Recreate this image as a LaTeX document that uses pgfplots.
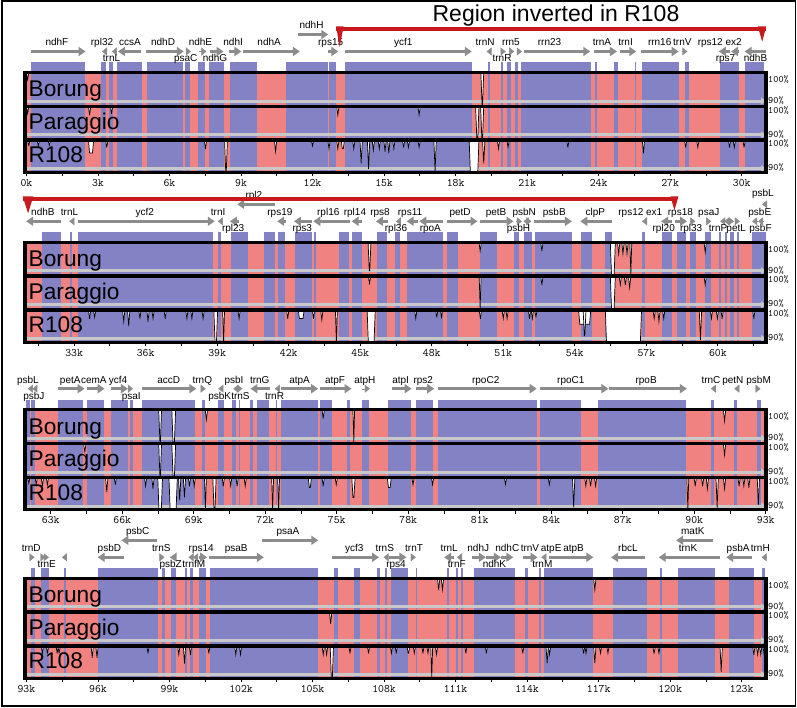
\documentclass[border=0pt]{standalone}
\usepackage{fontspec}
\setmainfont{Liberation Sans}
\usepackage{pgfplots}
\pgfplotsset{compat=1.18}
\usetikzlibrary{arrows.meta}

\definecolor{exon}{RGB}{130,130,196}
\definecolor{cns}{RGB}{240,130,130}
\definecolor{garr}{RGB}{140,140,140}
\definecolor{gline}{RGB}{200,200,200}
\definecolor{redl}{RGB}{200,25,30}

\newcommand{\gfont}{\fontsize{10}{12}\selectfont}
\newcommand{\tfont}{\fontsize{22.7}{26}\selectfont}
\newcommand{\mfont}{\ttfamily\fontsize{11.4}{13}\selectfont}
\newcommand{\pfont}{\ttfamily\fontsize{9.8}{11}\selectfont}

\def\exparse#1/#2\relax{\def\xa{#1}\def\xb{#2}}
\def\dipparse#1/#2/#3\relax{\def\xa{#1}\def\xb{#2}\def\vv{#3}}

\newcommand{\exons}[1]{%
  \pgfplotsforeachungrouped \ee in {#1}{%
    \expandafter\exparse\ee\relax
    \edef\tmp{\noexpand\addplot[fill=exon,draw=none] coordinates {(\xa,0) (\xb,0) (\xb,110) (\xa,110)} -- cycle;}%
    \tmp}}

\newcommand{\dips}[2]{%
  \pgfplotsforeachungrouped \dd in {#2}{%
    \expandafter\dipparse\dd\relax
    \pgfmathsetmacro\ff{min(0.05,0.5*(\xb-\xa))}%
    \pgfmathsetmacro\xc{\xa+\ff}%
    \pgfmathsetmacro\xd{\xb-\ff}%
    \pgfmathsetmacro\yv{#1-(100-\vv)*2.86}%
    \edef\tmp{\noexpand\addplot[fill=white,draw=black,line width=0.7pt] coordinates {(\xa,#1) (\xc,\yv) (\xd,\yv) (\xb,#1)};}%
    \tmp}}

\newcommand{\GA}[3]{\addplot[garr,line width=3.5pt,-{Triangle[length=7pt,width=9pt]}] coordinates {(#1,#3) (#2,#3)};}
\newcommand{\GT}[3]{\addplot[garr,line width=0.4pt,-{Triangle[length=5pt,width=8pt]}] coordinates {(#1,#3) (#2,#3)};}
\newcommand{\GL}[3]{\node[font=\gfont,inner sep=0pt,anchor=base] at (axis cs:#1,#3) {#2};}

\newcommand{\rowbase}[2]{%
  \addplot[fill=cns,draw=none] coordinates {(#1,0) (#2,0) (#2,100) (#1,100)} -- cycle;}
\newcommand{\rowlines}[2]{%
  \addplot[gline,line width=3pt,-{Triangle[length=5pt,width=7pt]}] coordinates {(#1,71.4) (#2,71.4)};
  \addplot[gline,line width=3pt,-{Triangle[length=5pt,width=7pt]}] coordinates {(#1,37.5) (#2,37.5)};
  \addplot[gline,line width=3pt,-{Triangle[length=5pt,width=7pt]}] coordinates {(#1,3.7) (#2,3.7)};}
\newcommand{\rowseps}[2]{%
  \addplot[black,line width=3.5pt] coordinates {(#1,66.1) (#2,66.1)};
  \addplot[black,line width=3.5pt] coordinates {(#1,32.3) (#2,32.3)};
  \node[font=\tfont,anchor=base west,inner sep=0pt,xshift=3.5pt] at (axis cs:#1,75.5) {Borung};
  \node[font=\tfont,anchor=base west,inner sep=0pt,xshift=3.5pt] at (axis cs:#1,43) {Paraggio};
  \node[font=\tfont,anchor=base west,inner sep=0pt,xshift=3.5pt] at (axis cs:#1,9.5) {R108};
  \node[font=\pfont,anchor=west,inner sep=0pt,xshift=2pt] at (axis cs:#2,93.2) {100\%};
  \node[font=\pfont,anchor=west,inner sep=0pt,xshift=2pt] at (axis cs:#2,72.2) {90\%};
  \node[font=\pfont,anchor=west,inner sep=0pt,xshift=2pt] at (axis cs:#2,62.3) {100\%};
  \node[font=\pfont,anchor=west,inner sep=0pt,xshift=2pt] at (axis cs:#2,38.3) {90\%};
  \node[font=\pfont,anchor=west,inner sep=0pt,xshift=2pt] at (axis cs:#2,28.5) {100\%};
  \node[font=\pfont,anchor=west,inner sep=0pt,xshift=2pt] at (axis cs:#2,4.5) {90\%};}

\pgfplotsset{rowax/.style={
  width=741pt,height=100pt,scale only axis,
  ymin=0,ymax=100,ytick=\empty,
  clip=false,axis on top,
  axis line style={line width=3.5pt},
  xtick pos=bottom,tick align=outside,
  major tick length=4pt,minor tick length=4pt,
  tick style={black,line width=0.8pt},
  /pgf/number format/assume math mode=true,
  xticklabel={\mfont\pgfmathprintnumber[fixed,precision=1]{\tick}k},
  xticklabel style={font=\mfont,anchor=base,yshift=-10pt},
  anchor=north west}}

\begin{document}
\begin{tikzpicture}
\useasboundingbox (0pt,0pt) rectangle (797pt,-708pt);
\fill[white] (0pt,0pt) rectangle (797pt,-708pt);

% ---------------- Row 1 ----------------
\begin{axis}[rowax,at={(25pt,-72.5pt)},xmin=-0.06,xmax=31.02,
  xtick={0,3,...,30},minor xtick={1.5,4.5,...,28.5}]
\rowbase{-0.06}{31.02}
\exons{0.2/2.45, 3.12/3.33, 3.47/3.63, 3.78/4.84, 5.04/6.57, 6.63/6.88, 7.18/7.51, 7.65/8.27, 8.53/9.65, 10.88/12.65, 12.71/13.0, 13.37/18.67, 19.35/19.45, 19.9/20.0, 20.16/20.31, 20.51/20.61, 20.76/23.67, 23.84/23.92, 24.63/24.8, 25.51/25.57, 25.82/27.39, 27.61/27.8, 29.08/29.9, 30.14/30.92}
\rowlines{-0.06}{31.02}
\dips{100}{0.0/0.1/97.5, 19.06/19.18/88.7}
\dips{66.1}{0.0/0.1/97.5, 2.6/2.7/97, 3.52/3.62/97.5, 13.01/13.11/97, 16.42/16.52/97, 18.84/18.98/88.7, 19.05/19.18/88.7}
\dips{32.3}{0.05/0.15/98, 0.45/0.55/98, 0.91/1.01/98, 2.6/2.82/95.5, 3.32/3.42/97.5, 7.46/7.56/97, 8.31/8.43/88.7, 10.4/10.5/96, 11.95/12.05/98, 12.64/12.74/97, 13.01/13.11/97, 13.2/13.34/97, 13.68/13.78/97, 13.99/14.09/92, 14.3/14.4/90, 14.5/14.6/96.5, 14.75/14.85/97, 14.99/15.09/96, 15.15/15.25/95.5, 15.36/15.46/97, 15.77/15.87/97.5, 15.97/16.07/97.5, 16.42/16.52/97.5, 17.09/17.19/89, 18.57/18.98/88.7, 19.13/19.23/92, 19.75/19.85/97, 20.15/20.25/97.5, 22.66/22.76/97.5, 25.83/25.93/95.5, 27.6/27.7/97.5, 28.11/28.21/97.5, 29.44/29.54/97.5, 29.64/29.74/97.5, 30.05/30.15/97.5}
\rowseps{-0.06}{31.02}
% genes
\GA{0.2}{2.48}{121}\GT{3.32}{3.17}{121}\GT{3.73}{3.58}{121}\GA{4.82}{3.84}{121}
\GA{5.03}{6.6}{121}\GT{6.7}{6.9}{121}\GT{7.25}{7.55}{121}\GA{7.69}{8.27}{121}
\GA{8.5}{9.02}{121}\GA{9.07}{11.47}{121}\GA{12.66}{13.08}{121}\GA{13.36}{18.68}{121}
\GT{19.42}{19.3}{121}\GT{19.98}{20.1}{121}\GT{20.32}{20.46}{121}\GT{20.64}{20.78}{121}
\GA{20.88}{23.65}{121}\GA{23.82}{24.77}{121}\GA{24.88}{25.58}{121}\GA{25.78}{27.36}{121}
\GT{27.6}{27.72}{121}\GA{29.53}{29.04}{121}\GA{29.88}{29.55}{121}\GA{31.0}{30.12}{121}
\GA{11.4}{12.66}{138}
\GL{1.28}{ndhF}{126.5}\GL{3.17}{rpl32}{126.5}\GL{4.34}{ccsA}{126.5}\GL{5.73}{ndhD}{126.5}
\GL{7.3}{ndhE}{126.5}\GL{8.67}{ndhI}{126.5}\GL{10.18}{ndhA}{126.5}\GL{12.76}{rps15}{126.5}
\GL{15.81}{ycf1}{126.5}\GL{19.24}{trnN}{126.5}\GL{20.32}{rrn5}{126.5}\GL{21.94}{rrn23}{126.5}
\GL{24.14}{trnA}{126.5}\GL{25.13}{trnI}{126.5}\GL{26.56}{rrn16}{126.5}\GL{27.51}{trnV}{126.5}
\GL{29.08}{rps12 ex2}{126.5}
\GL{3.57}{trnL}{110.5}\GL{6.68}{psaC}{110.5}\GL{7.91}{ndhG}{110.5}\GL{19.95}{trnR}{110.5}
\GL{29.32}{rps7}{110.5}\GL{30.58}{ndhB}{110.5}
\GL{11.96}{ndhH}{144}
% inverted region marker
\addplot[redl,line width=4pt] coordinates {(13.0,143.5) (31.0,143.5)};
\addplot[fill=redl,draw=none] coordinates {(12.99,146) (13.3,146) (13.14,125.5)} -- cycle;
\addplot[fill=redl,draw=none] coordinates {(30.68,146) (31.03,146) (30.86,130.8)} -- cycle;
\end{axis}

% ---------------- Row 2 ----------------
\begin{axis}[rowax,at={(25pt,-242.3pt)},xmin=30.94,xmax=62.02,
  xtick={33,36,...,60},minor xtick={31.5,34.5,...,61.5}]
\rowbase{30.94}{62.02}
\exons{31.66/32.46, 32.81/32.92, 33.16/38.83, 39.04/39.15, 39.57/40.3, 40.97/41.42, 41.56/41.84, 42.26/42.96, 43.06/43.13, 44.12/44.54, 44.67/45.06, 45.69/46.11, 46.46/46.67, 46.95/48.49, 48.66/49.12, 50.03/50.73, 51.43/51.64, 51.85/52.2, 52.34/53.88, 54.26/54.72, 55.25/55.56, 56.82/56.96, 57.66/58.08, 58.29/58.68, 58.85/59.1, 59.48/59.73, 60.04/60.15, 60.29/60.39, 60.53/60.67, 60.81/60.88, 61.44/62.0}
\rowlines{30.94}{62.02}
\dips{100}{45.33/45.45/90, 49.98/50.08/97, 52.57/52.67/97, 55.49/55.7/88.7, 55.79/55.89/96, 55.97/56.07/96, 56.14/56.24/96, 56.31/56.39/88.7, 59.42/59.52/96.5}
\dips{66.1}{45.34/45.44/97.5, 49.99/50.07/88.7, 52.57/52.67/97, 55.49/55.7/88.7, 55.86/55.96/97, 56.07/56.17/97, 56.25/56.35/96, 59.42/59.52/97}
\dips{32.3}{33.6/33.7/97, 33.81/33.91/97.5, 35.03/35.13/96, 35.24/35.34/94.5, 35.71/35.81/97, 36.05/36.15/96, 36.26/36.36/97, 36.77/36.87/97, 37.68/37.78/97, 37.89/37.99/97, 38.36/38.46/97, 38.86/39.02/88.7, 39.23/39.31/88.7, 39.87/39.97/97, 41.91/42.01/97, 42.4/42.65/97, 42.99/43.09/97, 43.34/43.44/96.5, 43.96/44.04/88.7, 45.29/45.63/88.7, 47.28/47.38/97, 48.16/48.26/97.5, 48.36/48.46/97.5, 49.99/50.09/97, 50.95/51.05/97, 51.11/51.21/97, 52.05/52.15/97, 52.17/52.27/97, 52.32/52.42/97.5, 54.16/54.67/95, 54.35/54.47/91, 55.28/56.8/88.7, 57.28/57.38/97, 57.48/57.58/96, 57.68/57.78/97, 59.22/59.32/89.5, 59.68/59.78/97, 59.93/60.03/97, 60.13/60.23/97, 61.46/61.56/97}
\rowseps{30.94}{62.02}
\GA{32.46}{30.99}{121}\GT{32.95}{32.8}{121}\GA{33.16}{38.9}{121}\GT{39.17}{39.03}{121}
\GA{39.92}{39.53}{121}\GA{41.88}{41.52}{121}\GA{42.96}{42.22}{121}\GA{44.57}{43.03}{121}
\GA{45.06}{44.64}{121}\GA{46.18}{45.66}{121}\GT{46.67}{46.5}{121}\GA{47.44}{46.95}{121}
\GA{48.49}{47.48}{121}\GA{48.63}{49.92}{121}\GA{50.03}{51.43}{121}\GT{51.54}{51.78}{121}
\GT{52.0}{51.85}{121}\GT{52.0}{52.18}{121}\GA{52.3}{53.88}{121}\GA{55.56}{54.23}{121}
\GT{56.96}{56.82}{121}\GA{58.08}{57.62}{121}\GA{58.22}{58.71}{121}\GT{58.82}{59.06}{121}
\GT{59.52}{59.72}{121}\GT{60.22}{60.1}{121}\GT{60.39}{60.27}{121}\GT{60.53}{60.67}{121}
\GT{60.8}{60.92}{121}\GT{61.65}{61.44}{121}\GT{61.9}{61.69}{121}
\GA{41.42}{39.84}{138}\GT{61.95}{61.86}{138}
\GL{31.69}{ndhB}{126.5}\GL{32.81}{trnL}{126.5}\GL{35.96}{ycf2}{126.5}\GL{39.04}{trnI}{126.5}
\GL{41.63}{rps19}{126.5}\GL{43.66}{rpl16}{126.5}\GL{44.78}{rpl14}{126.5}\GL{45.83}{rps8}{126.5}
\GL{47.09}{rps11}{126.5}\GL{49.19}{petD}{126.5}\GL{50.7}{petB}{126.5}\GL{51.88}{psbN}{126.5}
\GL{53.14}{psbB}{126.5}\GL{54.86}{clpP}{126.5}\GL{56.75}{rps12 ex1}{126.5}\GL{58.43}{rps18}{126.5}
\GL{59.62}{psaJ}{126.5}\GL{61.76}{psbE}{126.5}
\GL{39.67}{rpl23}{110.5}\GL{42.57}{rps3}{110.5}\GL{46.5}{rpl36}{110.5}\GL{47.94}{rpoA}{110.5}
\GL{51.64}{psbH}{110.5}\GL{57.73}{rpl20}{110.5}\GL{58.88}{rpl33}{110.5}\GL{60.01}{trnP}{110.5}
\GL{60.77}{petL}{110.5}\GL{61.79}{psbF}{110.5}
\GL{40.54}{rpl2}{144}\GL{61.89}{psbL}{145.5}
\addplot[redl,line width=4pt] coordinates {(30.86,143) (58.3,143)};
\addplot[fill=redl,draw=none] coordinates {(30.84,146) (31.29,146) (31.07,129)} -- cycle;
\addplot[fill=redl,draw=none] coordinates {(58.01,146) (58.35,146) (58.18,132)} -- cycle;
\end{axis}

% ---------------- Row 3 ----------------
\begin{axis}[rowax,at={(25pt,-409.7pt)},xmin=61.92,xmax=93.01,
  xtick={63,66,...,93},minor xtick={64.5,67.5,...,91.5}]
\rowbase{61.92}{93.01}
\exons{61.97/62.11, 62.18/62.32, 63.3/64.35, 64.52/65.22, 65.51/66.24, 66.31/66.45, 66.84/69.04, 69.35/69.46, 70.02/70.26, 70.62/70.79, 70.9/70.96, 71.35/71.49, 71.67/72.16, 72.44/72.51, 72.68/74.22, 74.29/74.78, 75.41/75.55, 76.08/76.36, 77.16/78.1, 78.32/79.05, 79.26/83.39, 83.53/85.24, 85.98/89.66, 90.7/90.81, 91.65/91.79, 92.63/92.8}
\rowlines{61.92}{93.01}
\dips{100}{67.53/67.65/88.7, 68.08/68.24/88.7, 69.48/69.58/96.5, 74.38/74.48/97, 75.68/75.75/88.7, 91.22/91.32/96}
\dips{66.1}{64.38/64.48/97, 67.53/67.65/88.7, 68.08/68.24/88.7, 91.22/91.32/96}
\dips{32.3}{62.03/62.13/98, 62.34/62.44/97.5, 62.6/62.7/97, 62.81/62.91/97.5, 65.3/65.4/95, 65.66/65.76/97.5, 66.93/67.03/97, 67.24/67.34/96, 67.49/67.69/88.7, 67.96/68.31/88.7, 68.36/68.46/92, 68.56/68.66/93, 68.77/68.87/97, 68.97/69.07/97, 69.45/69.53/88.7, 69.8/69.94/88.7, 70.19/70.29/97, 70.5/70.6/97, 70.77/70.87/97, 71.11/71.21/97, 72.27/72.35/88.7, 72.52/72.6/88.7, 73.8/73.94/96.5, 74.38/74.48/97, 74.93/75.03/97.5, 75.63/75.77/93, 77.12/77.29/96.5, 78.15/78.25/97.5, 78.97/79.07/97.5, 82.03/82.13/97.5, 83.87/83.97/97.5, 84.89/84.99/89.5, 85.4/85.5/97, 85.6/85.7/97, 85.81/85.91/97, 89.69/89.77/88.7, 89.99/90.09/97, 90.3/90.4/97, 90.5/90.6/96, 90.91/91.01/89.5, 91.22/91.32/96, 91.83/91.93/97, 92.03/92.13/97, 92.24/92.34/96.5, 92.64/92.74/90.5}
\rowseps{61.92}{93.01}
\GT{62.2}{62.04}{121}\GT{62.39}{62.23}{121}\GA{63.3}{64.42}{121}\GA{64.52}{65.26}{121}
\GA{65.51}{66.24}{121}\GT{66.28}{66.45}{121}\GA{66.84}{69.11}{121}\GT{69.36}{69.5}{121}
\GT{70.2}{70.03}{121}\GT{70.82}{70.66}{121}\GT{70.9}{71.04}{121}\GA{72.19}{71.38}{121}
\GT{72.51}{72.4}{121}\GA{72.68}{74.22}{121}\GA{74.29}{75.62}{121}\GT{76.08}{76.39}{121}
\GA{77.3}{78.14}{121}\GA{78.32}{79.09}{121}\GA{79.26}{83.39}{121}\GA{83.53}{86.4}{121}
\GA{86.44}{89.69}{121}\GT{90.81}{90.7}{121}\GT{91.82}{91.68}{121}\GT{92.63}{92.78}{121}
\GL{62.04}{psbL}{126.5}\GL{63.82}{petA}{126.5}\GL{64.81}{cemA}{126.5}\GL{65.82}{ycf4}{126.5}
\GL{67.95}{accD}{126.5}\GL{69.36}{trnQ}{126.5}\GL{70.69}{psbI}{126.5}\GL{71.77}{trnG}{126.5}
\GL{73.44}{atpA}{126.5}\GL{74.93}{atpF}{126.5}\GL{76.18}{atpH}{126.5}\GL{77.68}{atpI}{126.5}
\GL{78.63}{rps2}{126.5}\GL{81.25}{rpoC2}{126.5}\GL{84.82}{rpoC1}{126.5}\GL{87.98}{rpoB}{126.5}
\GL{90.7}{trnC}{126.5}\GL{91.62}{petN}{126.5}\GL{92.7}{psbM}{126.5}
\GL{62.29}{psbJ}{110.5}\GL{66.38}{psaI}{110.5}\GL{70.09}{psbK}{110.5}\GL{70.96}{trnS}{110.5}
\GL{72.39}{trnR}{110.5}
\end{axis}

% ---------------- Row 4 ----------------
\begin{axis}[rowax,at={(25pt,-578.3pt)},xmin=92.94,xmax=124.02,
  xtick={93,96,...,123},minor xtick={94.5,97.5,...,121.5}]
\rowbase{92.94}{124.02}
\exons{93.2/93.35, 93.61/93.96, 94.57/94.65, 96.0/98.51, 98.67/98.82, 99.06/99.27, 99.63/99.73, 99.88/99.98, 100.24/100.55, 100.69/105.24, 105.92/106.06, 106.73/106.98, 107.69/107.84, 108.04/108.12, 108.31/109.02, 109.33/109.39, 110.65/110.71, 111.02/111.1, 111.22/111.31, 111.78/113.51, 113.92/114.02, 114.49/114.57, 114.69/116.78, 117.59/119.02, 119.59/119.65, 120.31/121.88, 122.45/123.51, 123.86/123.96}
\rowlines{92.94}{124.02}
\dips{100}{110.24/110.34/96, 110.4/110.5/96, 116.79/116.89/96}
\dips{66.1}{105.71/105.81/96}
\dips{32.3}{93.62/93.72/97.5, 93.83/93.93/97.5, 94.24/94.34/97.5, 94.32/94.42/97.5, 95.71/95.81/96, 95.91/96.01/96, 98.05/98.15/97.5, 99.34/99.44/97, 99.58/99.68/94, 99.83/99.93/97, 100.6/100.7/97.5, 101.73/101.83/97, 101.93/102.03/97, 105.4/105.5/97, 105.54/105.64/97, 105.74/105.88/88.7, 106.52/106.62/97.5, 107.3/107.4/97.5, 108.26/108.36/97.5, 108.46/108.56/97.5, 108.96/109.08/97.5, 109.22/109.32/97.5, 109.58/109.68/97.5, 109.79/109.89/97.5, 109.96/110.04/89, 110.15/110.25/97, 111.38/111.48/97.5, 112.24/112.34/97.5, 113.77/113.87/97.5, 114.79/114.89/94, 114.89/114.99/97, 116.32/116.42/97.5, 116.42/116.52/97.5, 116.79/116.89/94, 117.03/117.13/97.5, 117.34/117.44/97.5, 119.27/119.38/97.5, 119.48/119.58/97.5, 122.09/122.19/91, 123.46/123.56/97, 123.62/123.72/97, 123.75/123.85/97, 123.89/123.99/97}
\rowseps{92.94}{124.02}
\GT{93.2}{93.34}{121}\GT{93.68}{93.8}{121}\GT{93.82}{93.94}{121}\GT{94.6}{94.49}{121}
\GA{97.08}{95.99}{121}\GT{98.65}{98.79}{121}\GA{99.25}{99.01}{121}\GT{99.93}{99.8}{121}
\GT{100.1}{99.99}{121}\GA{100.23}{100.58}{121}\GA{100.65}{102.96}{121}\GA{105.83}{107.79}{121}
\GT{108.1}{107.98}{121}\GA{108.21}{108.94}{121}\GT{109.26}{109.33}{121}\GA{110.94}{110.52}{121}
\GT{111.18}{111.06}{121}\GA{111.68}{112.27}{121}\GA{112.27}{112.9}{121}\GA{112.9}{113.42}{121}
\GA{113.81}{114.44}{121}\GT{114.72}{114.6}{121}\GA{114.92}{116.78}{121}\GA{118.96}{117.52}{121}
\GA{122.1}{119.52}{121}\GA{123.44}{122.35}{121}\GT{123.96}{123.84}{121}
\GA{98.48}{96.98}{138}\GA{102.89}{105.24}{138}\GA{121.79}{120.25}{138}
\GL{93.2}{trnD}{126.5}\GL{96.48}{psbD}{126.5}\GL{98.66}{trnS}{126.5}\GL{100.33}{rps14}{126.5}
\GL{101.8}{psaB}{126.5}\GL{106.75}{ycf3}{126.5}\GL{108.03}{trnS}{126.5}\GL{109.26}{trnT}{126.5}
\GL{110.73}{trnL}{126.5}\GL{111.95}{ndhJ}{126.5}\GL{113.17}{ndhC}{126.5}\GL{114.12}{trnV}{126.5}
\GL{115.01}{atpE}{126.5}\GL{115.95}{atpB}{126.5}\GL{118.23}{rbcL}{126.5}\GL{120.75}{trnK}{126.5}
\GL{122.85}{psbA}{126.5}\GL{123.78}{trnH}{126.5}
\GL{93.85}{trnE}{110.5}\GL{99.05}{psbZ}{110.5}\GL{100.02}{trnfM}{110.5}\GL{108.5}{rps4}{110.5}
\GL{111.05}{trnF}{110.5}\GL{112.63}{ndhK}{110.5}\GL{114.64}{trnM}{110.5}
\GL{97.67}{psbC}{144}\GL{103.97}{psaA}{144}\GL{120.95}{matK}{144}
\end{axis}

\node[font=\fontsize{23}{27}\selectfont,inner sep=0pt] at (556pt,-15.5pt) {Region inverted in R108};
\draw[line width=1.8pt] (1.8pt,-1.2pt) rectangle (795.5pt,-705.8pt);
\end{tikzpicture}
\end{document}
